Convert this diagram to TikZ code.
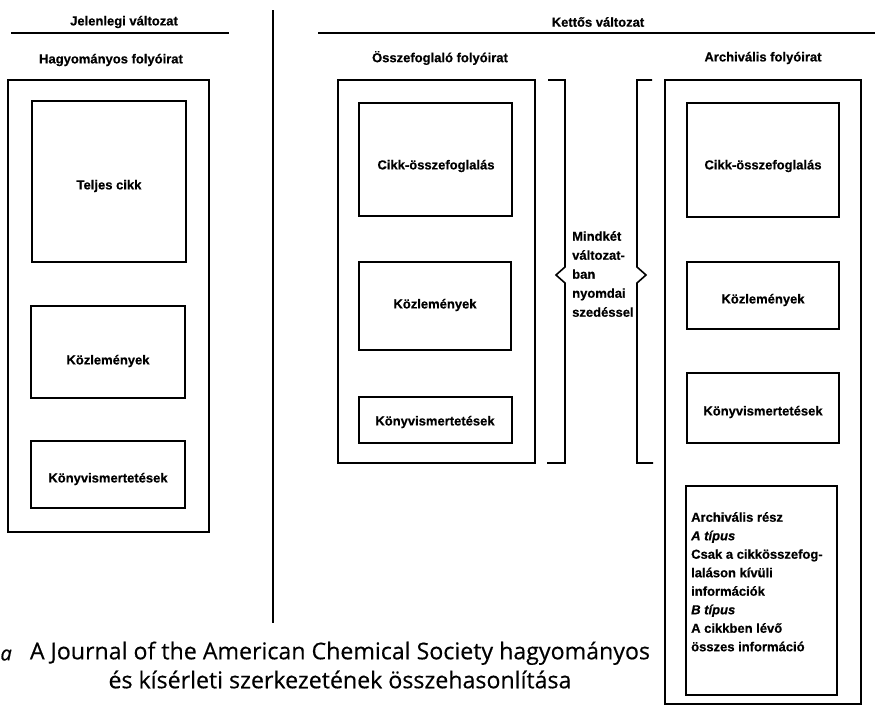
\documentclass[tikz,border=0pt]{standalone}
\usepackage{fontspec}
\setmainfont[BoldFeatures={FakeBold=0.6},BoldItalicFeatures={FakeBold=0.6}]{Liberation Sans}
\newfontfamily\capfont[FakeBold=0.4,ItalicFeatures={FakeBold=0.6}]{Open Sans}
\newcommand{\mybox}[5]{\node[box, minimum width={#4-#2}, minimum height={#5-#3}] (#1) at ({(#2+#4)/2},{(#3+#5)/2}) {};}
\begin{document}
\begin{tikzpicture}[x=1pt,y=-1pt,
  box/.style={draw, line width=2pt, rectangle, inner sep=0pt, outer sep=0pt},
  lbl/.style={font=\fontsize{13}{18.5}\selectfont\bfseries, inner sep=0pt},
  rulestyle/.style={line width=2pt},
  brk/.style={line width=1.6pt, line join=miter},
  divider/.style={line width=1.5pt}]
\useasboundingbox (0,0) rectangle (875,707);

% headers
\node[lbl] (h1) at (124,22) {Jelenlegi változat};
\coordinate (r1a) at (11,33); \coordinate (r1b) at (229,33);
\draw[rulestyle] (r1a) -- (r1b);
\node[lbl] (h1s) at (111,60) {Hagyományos folyóirat};

\node[lbl] (h2) at (598,22) {Kettős változat};
\coordinate (r2a) at (318,33); \coordinate (r2b) at (875,33);
\draw[rulestyle] (r2a) -- (r2b);
\node[lbl] (h2a) at (440,58) {Összefoglaló folyóirat};
\node[lbl] (h2b) at (763,58) {Archivális folyóirat};

% divider
\coordinate (dv1) at (273,10); \coordinate (dv2) at (273,623);
\draw[divider] (dv1) -- (dv2);

% left column
\mybox{Lout}{8}{80}{209}{532}
\mybox{L1}{32}{101}{186}{262}
\mybox{L2}{31}{306}{185}{398}
\mybox{L3}{31}{441}{185}{508}
\node[lbl] (tL1) at (109,186) {Teljes cikk};
\node[lbl] (tL2) at (108,361) {Közlemények};
\node[lbl] (tL3) at (108,479) {Könyvismertetések};

% middle column
\mybox{Mout}{338}{80}{535}{463}
\mybox{M1}{359}{103}{512}{216}
\mybox{M2}{359}{262}{511}{350}
\mybox{M3}{359}{397}{512}{443}
\node[lbl] (tM1) at (436,166) {Cikk-összefoglalás};
\node[lbl] (tM2) at (435,305) {Közlemények};
\node[lbl] (tM3) at (435,422) {Könyvismertetések};

% right column
\mybox{Rout}{665}{80}{861}{704}
\mybox{R1}{687}{103}{839}{217}
\mybox{R2}{687}{262}{839}{329}
\mybox{R3}{687}{373}{839}{443}
\mybox{R4}{686}{486}{837}{695}
\node[lbl] (tR1) at (763,166) {Cikk-összefoglalás};
\node[lbl] (tR2) at (763,300) {Közlemények};
\node[lbl] (tR3) at (763,412) {Könyvismertetések};
\node[lbl, align=left, anchor=north west] (tR4) at (691,512)
  {Archivális rész\\ \textit{A típus}\\ Csak a cikkösszefog-\\ laláson kívüli\\ információk\\ \textit{B típus}\\ A cikkben lévő\\ összes információ};

% brackets
\draw[brk] (548,80) -- (565,80) -- (565,267) -- (556,275) -- (565,283) -- (565,463) -- (547,463);
\draw[brk] (652,80) -- (637,80) -- (637,267) -- (646,275) -- (637,283) -- (637,463) -- (653,463);
\node[lbl, font=\fontsize{13}{19}\selectfont\bfseries, align=left, anchor=north west] (both) at (572,231)
  {Mindkét\\ változat-\\ ban\\ nyomdai\\ szedéssel};

% caption
\node[inner sep=0pt, anchor=east] (fig) at (12,655) {\capfont\fontsize{20}{24}\selectfont\itshape a};
\node[inner sep=0pt] (cap) at (340,668) {\capfont\fontsize{10}{12.5}\selectfont\resizebox{620pt}{!}{\begin{tabular}{@{}c@{}}A Journal of the American Chemical Society hagyományos\\ és kísérleti szerkezetének összehasonlítása\end{tabular}}};
\end{tikzpicture}
\end{document}
